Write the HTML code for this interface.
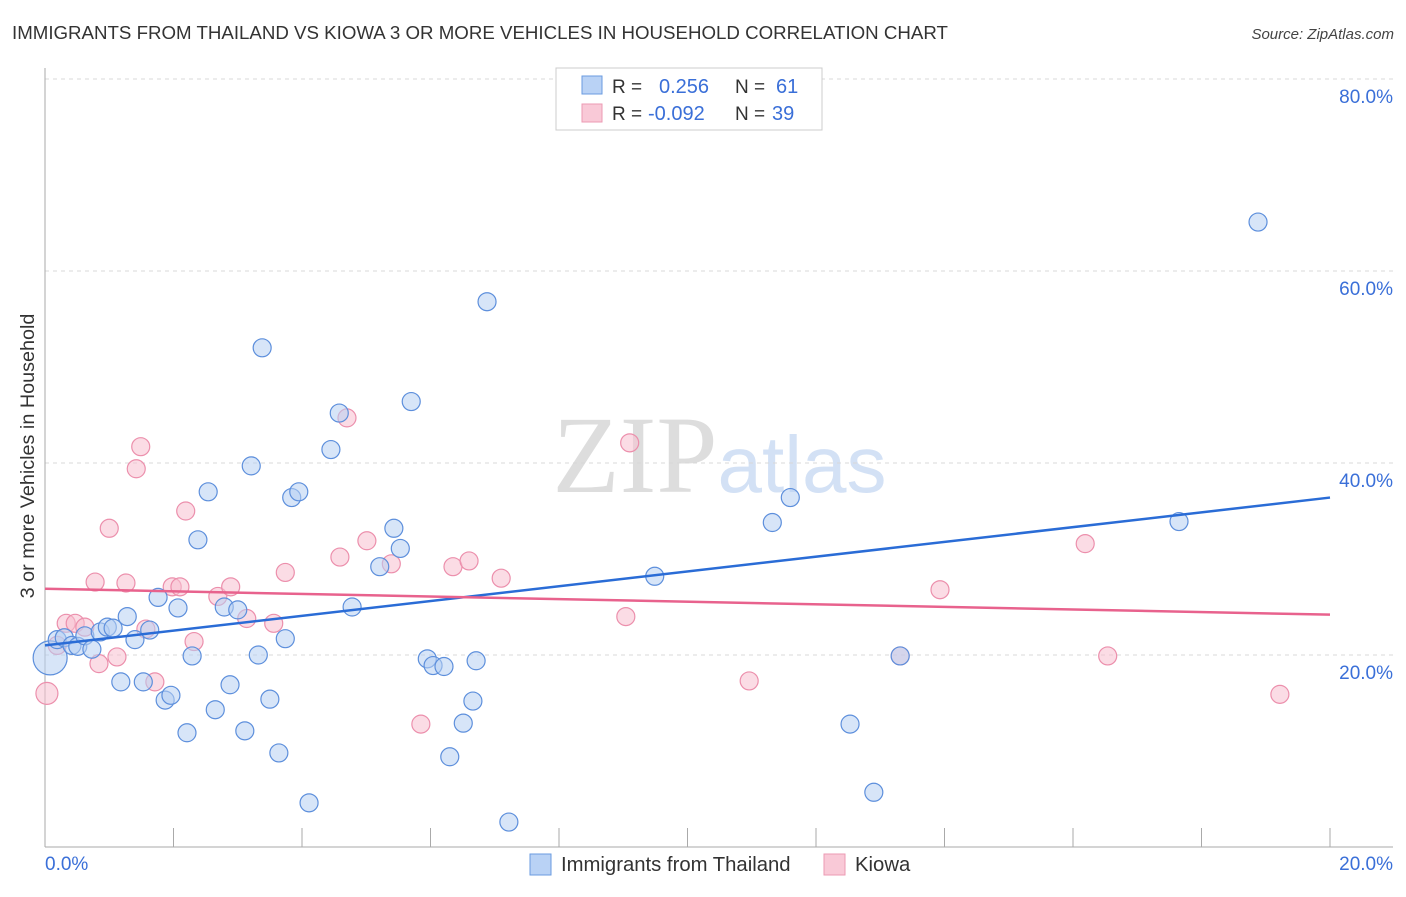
<!DOCTYPE html>
<html><head><meta charset="utf-8"><style>
body{margin:0;background:#fff;font-family:"Liberation Sans",sans-serif;}
svg text{font-family:"Liberation Sans",sans-serif;}
</style></head><body>
<svg id="chart" width="1406" height="892">
<text x="12" y="39" font-size="18.7" fill="#333">IMMIGRANTS FROM THAILAND VS KIOWA 3 OR MORE VEHICLES IN HOUSEHOLD CORRELATION CHART</text>
<text x="1394" y="39" font-size="15" fill="#444" font-style="italic" text-anchor="end">Source: ZipAtlas.com</text>
<g>
<text x="635" y="492" font-size="110" fill="#ddd" text-anchor="middle" font-family="Liberation Serif" style="font-family:'Liberation Serif',serif">ZIP</text>
<text x="802" y="492" font-size="80" fill="#d3e1f5" text-anchor="middle">atlas</text>
</g>
<g id="grid"></g>
<g id="axes"></g>
<g id="marks"></g>
<text transform="translate(34,456) rotate(-90)" font-size="19.8" fill="#333" text-anchor="middle">3 or more Vehicles in Household</text>
<g>
<rect x="556" y="68" width="266" height="62" fill="#fff" stroke="#ccc"/>
<rect x="582" y="76" width="20" height="18" fill="#b9d2f5" stroke="#6a9be0"/>
<rect x="582" y="104" width="20" height="18" fill="#f9c9d7" stroke="#ec9ab3"/>
<text x="612" y="93" font-size="19" fill="#333">R =</text><text x="659" y="93" font-size="20" fill="#3a6fd8">0.256</text>
<text x="735" y="93" font-size="19" fill="#333">N =</text><text x="776" y="93" font-size="20" fill="#3a6fd8">61</text>
<text x="612" y="120" font-size="19" fill="#333">R =</text><text x="648" y="120" font-size="20" fill="#3a6fd8">-0.092</text>
<text x="735" y="120" font-size="19" fill="#333">N =</text><text x="772" y="120" font-size="20" fill="#3a6fd8">39</text>
</g>
<g>
<rect x="530" y="854" width="21" height="21" fill="#b9d2f5" stroke="#6a9be0"/>
<text x="561" y="871" font-size="20.3" fill="#333">Immigrants from Thailand</text>
<rect x="824" y="854" width="21" height="21" fill="#f9c9d7" stroke="#ec9ab3"/>
<text x="855" y="871" font-size="20.3" fill="#333">Kiowa</text>
</g>
</svg>
<script>
const yTicks=[20,40,60,80];
const yTickLabels=["20.0%","40.0%","60.0%","80.0%"];
const xTickLabels=["0.0%","20.0%"];
const blueX=[0.08,0.19,0.30,0.42,0.51,0.62,0.73,0.86,0.97,1.06,1.18,1.28,1.40,1.53,1.63,1.76,1.87,1.96,2.07,2.21,2.29,2.38,2.54,2.65,2.79,2.88,3.00,3.11,3.21,3.32,3.38,3.50,3.64,3.74,3.84,3.95,4.11,4.45,4.58,4.78,5.21,5.43,5.53,5.70,5.95,6.04,6.21,6.30,6.51,6.66,6.71,6.88,7.22,9.49,11.32,11.60,12.53,12.90,13.31,17.65,18.88];
const blueY=[19.7,21.6,21.8,21.0,20.9,22.0,20.6,22.4,22.9,22.8,17.2,24.0,21.6,17.2,22.6,26.0,15.3,15.8,24.9,11.9,19.9,32.0,37.0,14.3,25.0,16.9,24.7,12.1,39.7,20.0,52.0,15.4,9.8,21.7,36.4,37.0,4.6,41.4,45.2,25.0,29.2,33.2,31.1,46.4,19.6,18.9,18.8,9.4,12.9,15.2,19.4,56.8,2.6,28.2,33.8,36.4,12.8,5.7,19.9,33.9,65.1];
const pinkX=[0.03,0.19,0.33,0.47,0.62,0.78,0.84,1.00,1.12,1.26,1.42,1.49,1.57,1.71,1.98,2.10,2.19,2.32,2.69,2.89,3.14,3.56,3.74,4.59,4.70,5.01,5.39,5.85,6.35,6.60,7.10,9.04,9.10,10.96,13.31,13.93,16.19,16.54,19.22];
const pinkY=[16.0,21.0,23.3,23.3,22.9,27.6,19.1,33.2,19.8,27.5,39.4,41.7,22.7,17.2,27.1,27.1,35.0,21.4,26.1,27.1,23.8,23.3,28.6,30.2,44.7,31.9,29.5,12.8,29.2,29.8,28.0,24.0,42.1,17.3,19.9,26.8,31.6,19.9,15.9];
const blueTrendX=[0,20];
const blueTrendY=[21.0,36.4];
const pinkTrendX=[0,20];
const pinkTrendY=[26.9,24.2];

const NS="http://www.w3.org/2000/svg";
const sx=v=>45+v/20*1285;
const sy=v=>847-v*9.6;
function mk(tag,attrs,parent){const e=document.createElementNS(NS,tag);for(const k in attrs)e.setAttribute(k,attrs[k]);parent.appendChild(e);return e;}
const grid=document.getElementById('grid'),axes=document.getElementById('axes'),marks=document.getElementById('marks');
yTicks.forEach((t,i)=>{
  const l=mk('line',{x1:45,x2:1393,y1:sy(t),y2:sy(t),stroke:'#d8d8d8','stroke-dasharray':'4,4'},grid);
  
  
  const tx=mk('text',{x:1393,y:sy(t)+24,'font-size':19,fill:'#3a6fd8','text-anchor':'end'},axes);
  tx.textContent=yTickLabels[i];
  
  
});
const ya=mk('line',{x1:45,x2:45,y1:68,y2:847,stroke:'#aaa'},axes);


const xa=mk('line',{x1:45,x2:1393,y1:847,y2:847,stroke:'#aaa'},axes);


for(let i=1;i<=10;i++){
  const t=mk('line',{x1:sx(i*2),x2:sx(i*2),y1:847,y2:828,stroke:'#aaa'},axes);
  
  
}
const x0=mk('text',{x:45,y:870,'font-size':19,fill:'#3a6fd8'},axes);x0.textContent=xTickLabels[0];


const x1=mk('text',{x:1393,y:870,'font-size':19,fill:'#3a6fd8','text-anchor':'end'},axes);x1.textContent=xTickLabels[1];


function dots(X,Y,fill,stroke,name,bigR){
  X.forEach((x,i)=>{
    const c=mk('circle',{cx:sx(x),cy:sy(Y[i]),r:i===0?bigR:9,fill:fill,'fill-opacity':0.55,stroke:stroke,'stroke-width':1.2},marks);
    
    
  });
}
dots(pinkX,pinkY,'#f8bfd0','#ec8fac','kiowa-point',11);
dots(blueX,blueY,'#b6cff3','#5d8fdc','thailand-point',17);
const bl=mk('line',{x1:sx(blueTrendX[0]),y1:sy(blueTrendY[0]),x2:sx(blueTrendX[1]),y2:sy(blueTrendY[1]),stroke:'#2a6cd6','stroke-width':2.5},marks);


const pl=mk('line',{x1:sx(pinkTrendX[0]),y1:sy(pinkTrendY[0]),x2:sx(pinkTrendX[1]),y2:sy(pinkTrendY[1]),stroke:'#e8628d','stroke-width':2.5},marks);


</script>
</body></html>
